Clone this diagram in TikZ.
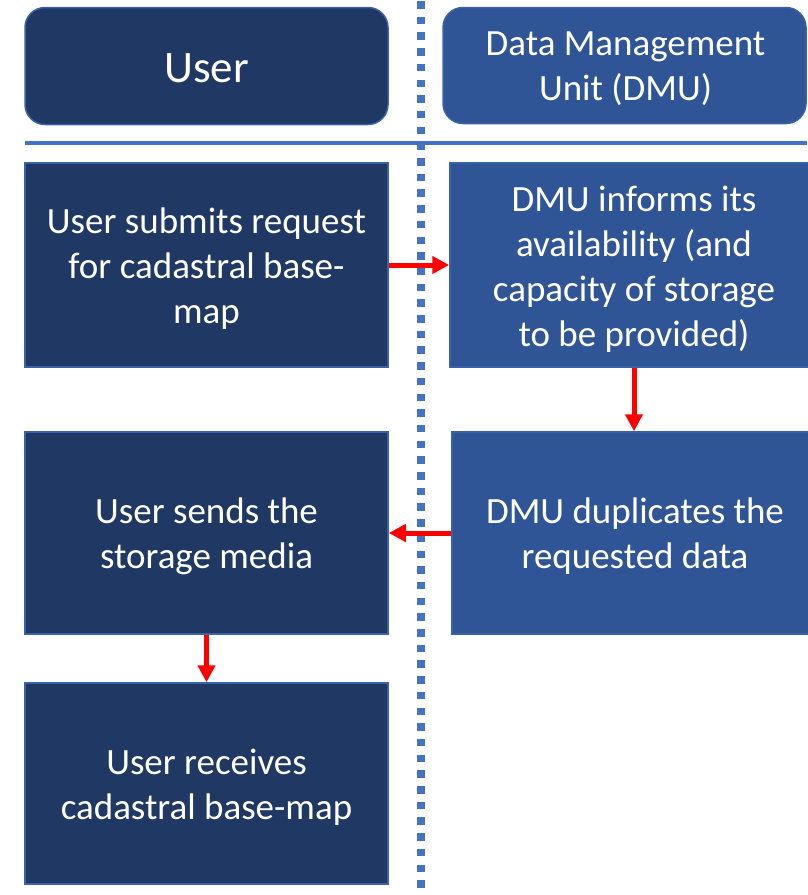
\documentclass[tikz,border=0pt]{standalone}
\usepackage{fontspec}
\setmainfont{Carlito}
\usetikzlibrary{arrows.meta}
\definecolor{navyfill}{HTML}{203864}
\definecolor{bluefill}{HTML}{2F5597}
\definecolor{edgecol}{HTML}{3A62A8}
\definecolor{linecol}{HTML}{4472C4}
\definecolor{arrred}{HTML}{FF0000}
\tikzset{
  userbox/.style={rectangle, fill=navyfill, draw=edgecol, line width=1.5pt, inner sep=0pt},
  dmubox/.style={userbox, fill=bluefill},
  headbox/.style={rounded corners=20pt},
  boxtext/.style={text=white, align=center, inner sep=0pt, font=\fontsize{37}{45}\selectfont},
  flowarrow/.style={draw=arrred, line width=5pt, -{Triangle[length=17pt,width=17pt]}},
}
\begin{document}
\begin{tikzpicture}[x=1pt,y=-1pt]
\useasboundingbox (0,0) rectangle (807,895);
% separators
\draw[linecol, line width=7.5pt, dash pattern=on 7.5pt off 8.2pt] (421,1) coordinate (vtop) -- (421,895) coordinate (vbot);
\draw[linecol, line width=4.5pt] (25,143) coordinate (hl) -- (807,143) coordinate (hr);
% headers
\node[userbox, headbox, minimum width=363pt, minimum height=117pt] (huser) at (206.5,66) {};
\node[boxtext, font=\fontsize{45}{54}\selectfont] (thuser) at ([yshift=-2.5pt]huser.center) {User};
\node[dmubox, headbox, minimum width=363pt, minimum height=116pt] (hdmu) at (624.5,65.5) {};
\node[boxtext] (thdmu) at ([xshift=1pt,yshift=-3pt]hdmu.center) {Data Management\\Unit (DMU)};
% boxes
\node[userbox, minimum width=363pt, minimum height=204pt] (b1) at (206.5,265) {};
\node[boxtext] (t1) at ([yshift=-4pt]b1.center) {User submits request\\for cadastral base-\\map};
\node[dmubox, minimum width=368pt, minimum height=204pt] (b2) at (634,265) {};
\node[boxtext] (t2) at ([yshift=-4pt]b2.center) {DMU informs its\\availability (and\\capacity of storage\\to be provided)};
\node[userbox, minimum width=363pt, minimum height=202pt] (b3) at (206.5,533) {};
\node[boxtext] (t3) at ([yshift=-3pt]b3.center) {User sends the\\storage media};
\node[dmubox, minimum width=366pt, minimum height=202pt] (b4) at (635,533) {};
\node[boxtext] (t4) at ([yshift=-3pt]b4.center) {DMU duplicates the\\requested data};
\node[userbox, minimum width=363pt, minimum height=201pt] (b5) at (206.5,783.5) {};
\node[boxtext] (t5) at ([yshift=-3.5pt]b5.center) {User receives\\cadastral base-map};
% arrows
\draw[flowarrow] (b1.east) -- (b2.west);
\draw[flowarrow] (b2.south) -- (b2.south |- b4.north);
\draw[flowarrow] (b4.west) -- (b3.east);
\draw[flowarrow] (b3.south) -- (b5.north);
\end{tikzpicture}
\end{document}
